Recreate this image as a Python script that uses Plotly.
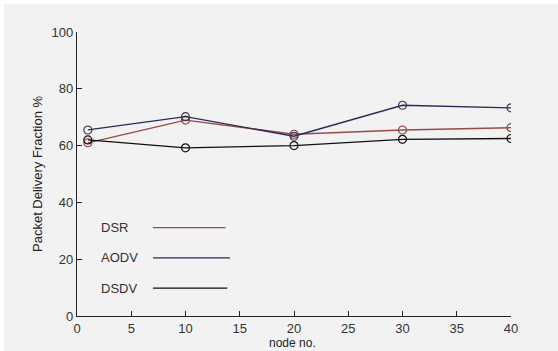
import plotly.graph_objects as go

W, H = 558, 351
L, R, T, B = 77, 47, 32, 35

nodes = [1, 10, 20, 30, 40]
dsr = [61.0, 69.0, 64.0, 65.5, 66.3]
aodv = [65.5, 70.2, 63.3, 74.2, 73.3]
dsdv = [62.0, 59.2, 60.0, 62.2, 62.5]

series_names = ["DSR", "AODV", "DSDV"]
series_vals = [dsr, aodv, dsdv]
line_colors = ["#9a4a4a", "#2a2a55", "#111111"]
marker_colors = ["#8a4545", "#3a3a50", "#111111"]

legend_y = [31.1, 20.5, 9.8]
legend_x0 = [7.0, 7.0, 7.0]
legend_x1 = [13.7, 14.1, 13.85]
legend_text_x = 2.0

x_ticks = [0, 5, 10, 15, 20, 25, 30, 35, 40]
y_ticks = [0, 20, 40, 60, 80, 100]

fig = go.Figure()
for name, vals, lc, mc in zip(series_names, series_vals, line_colors, marker_colors):
    fig.add_trace(go.Scatter(
        x=nodes, y=vals, mode="lines+markers", name=name,
        line=dict(color=lc, width=1.3),
        marker=dict(symbol="circle-open", size=8, color=mc, line=dict(width=1.2, color=mc)),
        showlegend=False))

for name, y, x0, x1, lc in zip(series_names, legend_y, legend_x0, legend_x1, line_colors):
    fig.add_trace(go.Scatter(x=[x0, x1], y=[y, y], mode="lines",
                             line=dict(color=lc, width=1.3), showlegend=False, hoverinfo="skip"))
    fig.add_annotation(x=legend_text_x, y=y, text=name, showarrow=False,
                       xanchor="left", yanchor="middle",
                       font=dict(family="Liberation Sans, Arial", size=13, color="#333333"))

pw = W - L - R
ph = H - T - B
fig.add_shape(type="rect", xref="paper", yref="paper",
              x0=(4 - L) / pw, x1=(W - L) / pw + 0.01,
              y0=-(B + 5) / ph, y1=(ph + T - 4) / ph,
              fillcolor="#f2f2f2", line=dict(width=0), layer="below")

title_font = dict(family="Liberation Sans, Arial", size=12, color="#222222")
fig.add_annotation(xref="paper", yref="paper", x=(292.5 - L) / pw, y=-(342.5 - (H - B)) / ph,
                   text="node no.", showarrow=False, xanchor="center", yanchor="middle",
                   font=title_font)
fig.add_annotation(xref="paper", yref="paper", x=(37 - L) / pw, y=0.5,
                   text="Packet Delivery Fraction %", showarrow=False, textangle=-90,
                   xanchor="center", yanchor="middle",
                   font=dict(family="Liberation Sans, Arial", size=13, color="#222222"))

axis_font = dict(family="Liberation Sans, Arial", size=13, color="#333333")
fig.update_layout(
    width=W, height=H,
    margin=dict(l=L, r=R, t=T, b=B),
    paper_bgcolor="white",
    plot_bgcolor="rgba(0,0,0,0)",
    xaxis=dict(range=[0, 40], tickvals=x_ticks, ticks="inside", ticklen=5,
               tickcolor="#222", showline=True, linecolor="#222", linewidth=1.3,
               showgrid=False, zeroline=False, tickfont=axis_font,
               ticklabelstandoff=0, automargin=False),
    yaxis=dict(range=[0, 100], tickvals=y_ticks, ticks="inside", ticklen=5,
               tickcolor="#222", showline=True, linecolor="#222", linewidth=1.3,
               showgrid=False, zeroline=False, tickfont=axis_font,
               automargin=False),
)
fig.write_html("out.html")
